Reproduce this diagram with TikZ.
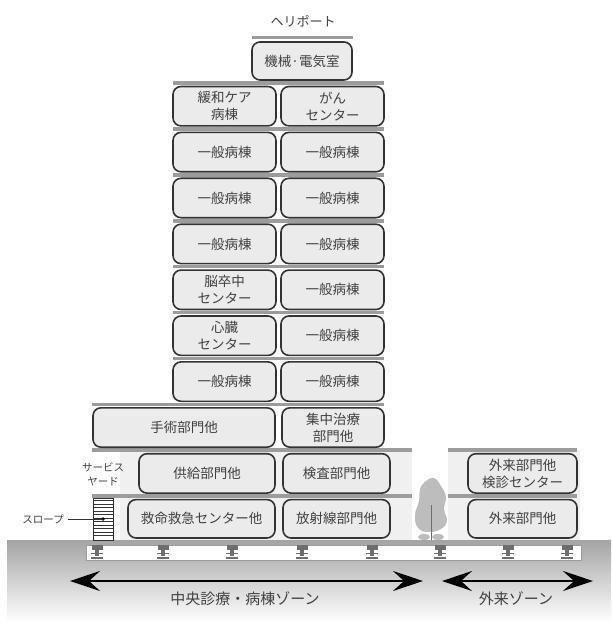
\documentclass[tikz,border=0pt]{standalone}
\usepackage{fontspec}
\setmainfont{Noto Sans CJK JP}
\usetikzlibrary{arrows.meta}
\definecolor{boxline}{HTML}{333333}
\definecolor{boxfill}{HTML}{EBEBEB}
\definecolor{txt}{HTML}{404040}
\definecolor{floorgray}{HTML}{9C9C9C}
\definecolor{floorbg}{HTML}{F0F0F0}
\definecolor{groundtop}{HTML}{A4A4A4}
\definecolor{isogray}{HTML}{6E6E6E}
\definecolor{treegray}{HTML}{BDBDBD}
\tikzset{
  room/.style={draw=boxline, fill=boxfill, line width=1.6pt, rounded corners=8pt,
    align=center, inner sep=0pt, text=txt, font=\fontsize{13.5}{17}\selectfont},
  floor/.style={draw=floorgray, line width=3.6pt},
  label/.style={text=txt, inner sep=0pt, align=center},
  zone/.style={line width=2pt, black,
    {Stealth[length=30pt,width=20pt,inset=11pt]}-{Stealth[length=30pt,width=20pt,inset=11pt]}},
  isolator/.style={fill=isogray},
}
% \roombox{name}{x1}{y1}{x2}{y2}{text}
\newcommand\roombox[6]{%
  \node[room, minimum width={#4-#2}, minimum height={#5-#3}] (#1) at ({(#2+#4)/2},{(#3+#5)/2}) {#6};}
\begin{document}
\begin{tikzpicture}[x=1pt,y=-1pt]
\useasboundingbox (0,0) rectangle (611,628);

% ground
\shade[top color=groundtop, bottom color=white] (7,540) rectangle (611,622);

% foundation slab with seismic isolators
\fill[white] (86,545) rectangle (581,560);
\draw[floorgray, line width=0.8pt] (86,545) rectangle (581,560);
\foreach \cx in {97,163,232,302,372,440,508,567} {
  \fill[isolator] (\cx-5.5,545) rectangle (\cx+5.5,549.5);
  \fill[isolator] (\cx-1.6,549.5) rectangle (\cx+1.6,556);
  \draw[isogray, line width=1pt] (\cx-6,553) -- (\cx+6,553);
  \draw[isogray, line width=1.2pt] (\cx-6,558) -- (\cx+6,558);
}

% lower floor backgrounds
\fill[floorbg] (120,450) rectangle (412,540);
\fill[floorbg] (448,450) rectangle (580,540);

% tree in the courtyard
\fill[treegray] plot[smooth cycle, tension=0.7] coordinates
  {(426,481) (434,478) (441,486) (446,497) (444,509) (447,521) (441,529) (429,532) (418,528) (415,515) (419,501) (420,489)};
\fill[treegray] (424,537) ellipse (6 and 3);
\fill[treegray] (438,537) ellipse (6 and 3);
\draw[isogray, line width=0.8pt] (431,505) -- (431,540);

% floor slabs
\draw[floor] (252,37.5) -- (353,37.5);
\foreach \yy in {83,128.9,174.8,220.7,266.6,312.5,358.4} {
  \draw[floor] (173,\yy) -- (384,\yy);
}
\draw[floor] (92,404.3) -- (384,404.3);
\draw[floor] (92,450.2) -- (412,450.2);
\draw[floor] (448,450.2) -- (577,450.2);
\draw[floor] (92,496.1) -- (412,496.1);
\draw[floor] (448,496.1) -- (577,496.1);

% heliport and machine room
\node[label, font=\fontsize{13}{15}\selectfont] (heli) at (303,21) {ヘリポート};
\roombox{mech}{252}{42}{352}{80}{機械·電気室}

% ward floors
\roombox{r1l}{173}{86.5}{276}{125.9}{緩和ケア\\病棟}
\roombox{r1r}{281}{86.5}{384}{125.9}{がん\\センター}
\roombox{r2l}{173}{132.4}{276}{171.8}{一般病棟}
\roombox{r2r}{281}{132.4}{384}{171.8}{一般病棟}
\roombox{r3l}{173}{178.3}{276}{217.7}{一般病棟}
\roombox{r3r}{281}{178.3}{384}{217.7}{一般病棟}
\roombox{r4l}{173}{224.2}{276}{263.6}{一般病棟}
\roombox{r4r}{281}{224.2}{384}{263.6}{一般病棟}
\roombox{r5l}{173}{270.1}{276}{309.5}{脳卒中\\センター}
\roombox{r5r}{281}{270.1}{384}{309.5}{一般病棟}
\roombox{r6l}{173}{316}{276}{355.4}{心臓\\センター}
\roombox{r6r}{281}{316}{384}{355.4}{一般病棟}
\roombox{r7l}{173}{361.9}{276}{401.3}{一般病棟}
\roombox{r7r}{281}{361.9}{384}{401.3}{一般病棟}

% podium floors
\roombox{r8l}{93}{407.8}{275}{447.2}{手術部門他}
\roombox{r8r}{282}{407.8}{384}{447.2}{集中治療\\部門他}
\roombox{r9l}{139}{453.7}{275}{493.1}{供給部門他}
\roombox{r9m}{283}{453.7}{390}{493.1}{検査部門他}
\roombox{r9r}{468}{453.7}{577}{493.1}{外来部門他\\検診センター}
\roombox{r10l}{128}{499.6}{275}{538}{救命救急センター他}
\roombox{r10m}{283}{499.6}{390}{538}{放射線部門他}
\roombox{r10r}{468}{499.6}{577}{538}{外来部門他}

% service yard and ramp
\node[label, font=\fontsize{10.5}{14}\selectfont] (yard) at (103,474) {サービス\\ヤード};
\fill[white] (93,498) rectangle (113,540);
\foreach \yy in {500.5,504,...,538} {
  \draw[boxline, line width=0.6pt] (93,\yy) -- (113,\yy);
}
\draw[boxline, line width=0.8pt] (93,498) rectangle (113,540);
\fill[black] (103,519) circle (1.8);
\coordinate (rampdot) at (103,519);
\node[label, font=\fontsize{10.5}{12}\selectfont, anchor=east] (ramp) at (64,519) {スロープ};
\draw[boxline, line width=0.8pt] (ramp.east) ++(4,0) -- (rampdot);

% zones
\coordinate (zc1) at (70,581);
\coordinate (zc2) at (423,581);
\coordinate (zo1) at (442,581);
\coordinate (zo2) at (593,581);
\draw[zone] (zc1) -- (zc2);
\draw[zone] (zo1) -- (zo2);
\node[label, font=\fontsize{15}{17}\selectfont] (zcl) at (245,599) {中央診療・病棟ゾーン};
\node[label, font=\fontsize{15}{17}\selectfont] (zol) at (516,599) {外来ゾーン};
\end{tikzpicture}
\end{document}
